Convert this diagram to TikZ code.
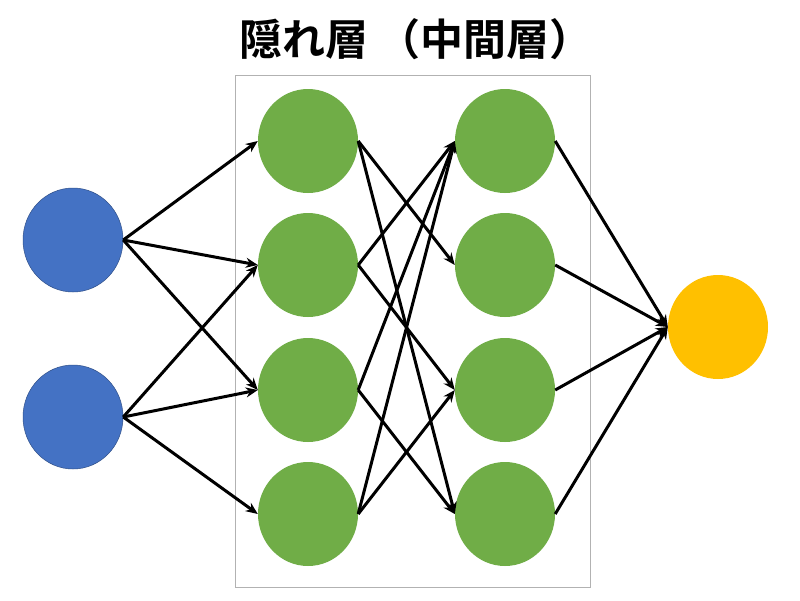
\documentclass[tikz,border=0pt]{standalone}
\usepackage{fontspec}
\newfontfamily\cjk{Noto Sans CJK JP}[BoldFont={* Bold}]
\usetikzlibrary{arrows.meta,shapes.geometric}
\definecolor{inb}{HTML}{4472C4}
\definecolor{hid}{HTML}{70AD47}
\definecolor{outc}{HTML}{FFC000}
\begin{document}
\begin{tikzpicture}[x=1pt,y=-1pt,
 nd/.style={ellipse,minimum width=100pt,minimum height=104pt,inner sep=0pt},
 inn/.style={nd,fill=inb,draw=inb!70!black,line width=0.5pt},
 hn/.style={nd,fill=hid},
 on/.style={nd,fill=outc},
 ar/.style={line width=3pt,-{Stealth[length=12pt,width=10pt]}}]
\useasboundingbox (0,0) rectangle (800,600);
\fill[white] (0,0) rectangle (800,600);
\node[font=\cjk\bfseries\fontsize{43}{50}\selectfont] (t) at (416,39) {隠れ層 （中間層）};
\node[draw=gray!60,line width=0.8pt,minimum width=355pt,minimum height=512pt,inner sep=0pt] (box) at (412.5,331) {};
\node[inn] (i1) at (73,240) {};
\node[inn] (i2) at (73,417) {};
\foreach \n/\y in {1/141,2/265,3/390,4/514}{
 \node[hn] (a\n) at (308,\y) {};
 \node[hn] (b\n) at (505,\y) {};
}
\node[on] (o) at (718,327) {};
\foreach \t in {1,2,3} \draw[ar] (i1.east) -- (a\t.west);
\foreach \t in {2,3,4} \draw[ar] (i2.east) -- (a\t.west);
\foreach \s/\t in {1/2,1/4,2/1,2/3,3/1,3/4,4/1,4/3} \draw[ar] (a\s.east) -- (b\t.west);
\foreach \s in {1,2,3,4} \draw[ar] (b\s.east) -- (o.west);
\end{tikzpicture}
\end{document}
